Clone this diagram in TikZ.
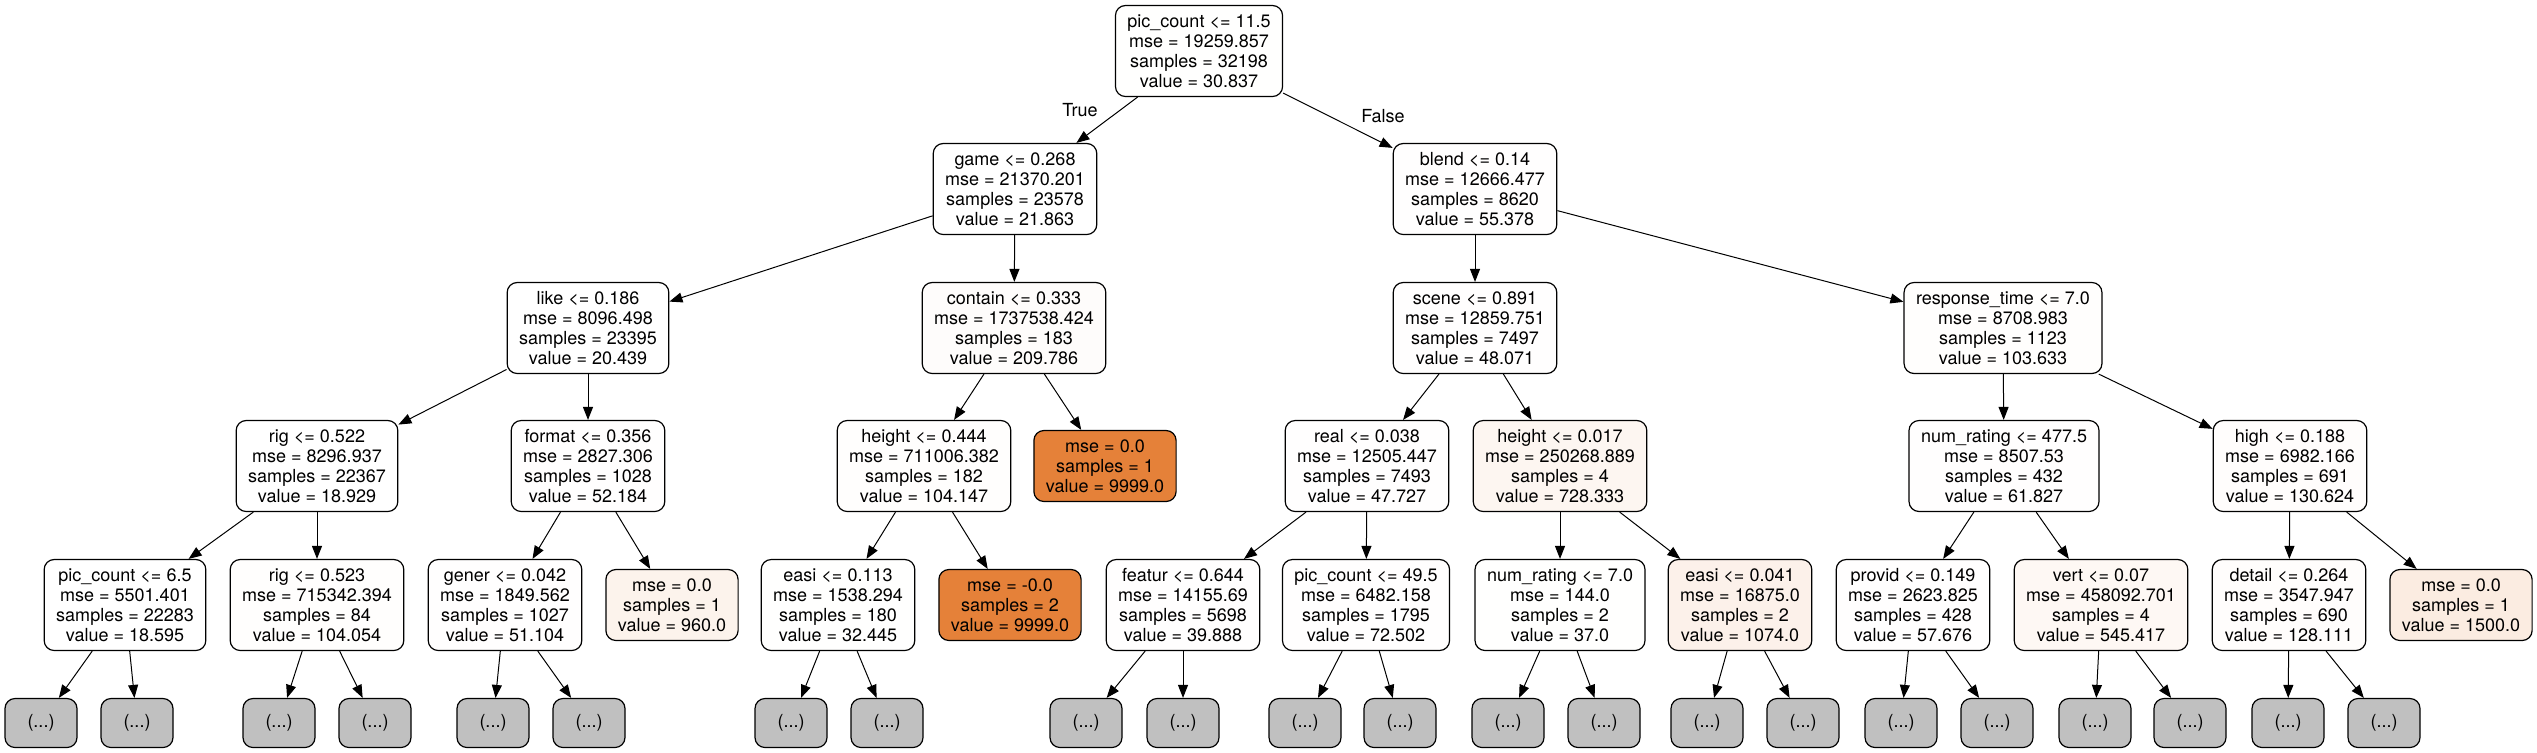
\documentclass[tikz,border=0pt]{standalone}
\usepackage{fontspec}
\setmainfont{TeX Gyre Heros}
\usetikzlibrary{arrows.meta}
\definecolor{cw}{RGB}{255,255,255}
\definecolor{cRoot}{RGB}{255,255,254}
\definecolor{cA}{RGB}{255,254,254}
\definecolor{cB}{RGB}{255,254,253}
\definecolor{cC}{RGB}{254,252,251}
\definecolor{cD}{RGB}{255,253,252}
\definecolor{cH}{RGB}{253,246,241}
\definecolor{cL960}{RGB}{252,243,236}
\definecolor{cE}{RGB}{252,241,234}
\definecolor{cV}{RGB}{254,248,244}
\definecolor{cL1500}{RGB}{251,236,225}
\definecolor{corange}{RGB}{229,129,57}
\definecolor{cgray}{RGB}{192,192,192}
\begin{document}
\begin{tikzpicture}[x=0.5pt,y=-0.5pt,
  every node/.style={font=\fontsize{9pt}{10pt}\selectfont},
  tn/.style={draw=black, line width=0.6pt, rounded corners=5pt, align=center,
    inner xsep=6pt, inner ysep=1pt, minimum height=45.5pt, minimum width=36pt},
  lf/.style={tn, minimum height=35.5pt},
  gr/.style={tn, fill=cgray, minimum height=24.5pt},
  ed/.style={-{Triangle[length=6.5pt,width=5pt]}, line width=0.5pt},
  lbl/.style={inner sep=0pt}]
\useasboundingbox (0,0) rectangle (2537,752);
% level 0
\node[tn, fill=cRoot] (root) at (1199,51) {pic\_count <= 11.5\\mse = 19259.857\\samples = 32198\\value = 30.837};
% level 1
\node[tn, fill=cw] (game) at (1015,189) {game <= 0.268\\mse = 21370.201\\samples = 23578\\value = 21.863};
\node[tn, fill=cA] (blend) at (1475,189) {blend <= 0.14\\mse = 12666.477\\samples = 8620\\value = 55.378};
% level 2
\node[tn, fill=cw] (like) at (588,328) {like <= 0.186\\mse = 8096.498\\samples = 23395\\value = 20.439};
\node[tn, fill=cC] (contain) at (1014,328) {contain <= 0.333\\mse = 1737538.424\\samples = 183\\value = 209.786};
\node[tn, fill=cA] (scene) at (1475,328) {scene <= 0.891\\mse = 12859.751\\samples = 7497\\value = 48.071};
\node[tn, fill=cB] (resp) at (2003,328) {response\_time <= 7.0\\mse = 8708.983\\samples = 1123\\value = 103.633};
% level 3
\node[tn, fill=cw] (rigA) at (317,466) {rig <= 0.522\\mse = 8296.937\\samples = 22367\\value = 18.929};
\node[tn, fill=cA] (format) at (588,466) {format <= 0.356\\mse = 2827.306\\samples = 1028\\value = 52.184};
\node[tn, fill=cB] (heightA) at (924,466) {height <= 0.444\\mse = 711006.382\\samples = 182\\value = 104.147};
\node[lf, fill=corange] (leafA) at (1105,466) {mse = 0.0\\samples = 1\\value = 9999.0};
\node[tn, fill=cA] (real) at (1367,466) {real <= 0.038\\mse = 12505.447\\samples = 7493\\value = 47.727};
\node[tn, fill=cH] (heightB) at (1560,466) {height <= 0.017\\mse = 250268.889\\samples = 4\\value = 728.333};
\node[tn, fill=cA] (numrA) at (2004,466) {num\_rating <= 477.5\\mse = 8507.53\\samples = 432\\value = 61.827};
\node[tn, fill=cD] (high) at (2290,466) {high <= 0.188\\mse = 6982.166\\samples = 691\\value = 130.624};
% level 4
\node[tn, fill=cw] (picB) at (125,605) {pic\_count <= 6.5\\mse = 5501.401\\samples = 22283\\value = 18.595};
\node[tn, fill=cB] (rigB) at (317,605) {rig <= 0.523\\mse = 715342.394\\samples = 84\\value = 104.054};
\node[tn, fill=cA] (gener) at (505,605) {gener <= 0.042\\mse = 1849.562\\samples = 1027\\value = 51.104};
\node[lf, fill=cL960] (leafC) at (672,605) {mse = 0.0\\samples = 1\\value = 960.0};
\node[tn, fill=cRoot] (easiA) at (838,605) {easi <= 0.113\\mse = 1538.294\\samples = 180\\value = 32.445};
\node[lf, fill=corange] (leafB) at (1010,605) {mse = -0.0\\samples = 2\\value = 9999.0};
\node[tn, fill=cA] (featur) at (1183,605) {featur <= 0.644\\mse = 14155.69\\samples = 5698\\value = 39.888};
\node[tn, fill=cA] (picC) at (1366,605) {pic\_count <= 49.5\\mse = 6482.158\\samples = 1795\\value = 72.502};
\node[tn, fill=cRoot] (numrB) at (1560,605) {num\_rating <= 7.0\\mse = 144.0\\samples = 2\\value = 37.0};
\node[tn, fill=cE] (easiB) at (1740,605) {easi <= 0.041\\mse = 16875.0\\samples = 2\\value = 1074.0};
\node[tn, fill=cA] (provid) at (1913,605) {provid <= 0.149\\mse = 2623.825\\samples = 428\\value = 57.676};
\node[tn, fill=cV] (vert) at (2101,605) {vert <= 0.07\\mse = 458092.701\\samples = 4\\value = 545.417};
\node[tn, fill=cD] (detail) at (2289,605) {detail <= 0.264\\mse = 3547.947\\samples = 690\\value = 128.111};
\node[lf, fill=cL1500] (leafD) at (2461,605) {mse = 0.0\\samples = 1\\value = 1500.0};
% level 5 (truncated)
\foreach \n/\x in {g1/41, g2/137, g3/279, g4/375, g5/493, g6/589, g7/791, g8/887,
  g9/1086, g10/1183, g11/1305, g12/1400, g13/1508, g14/1604, g15/1707, g16/1803,
  g17/1901, g18/1997, g19/2095, g20/2190, g21/2288, g22/2384}
  \node[gr] (\n) at (\x,723) {(...)};
% edges
\draw[ed] (root) -- (game);
\draw[ed] (root) -- (blend);
\node[lbl] (ltrue) at (1080,110) {True};
\node[lbl] (lfalse) at (1383,116) {False};
\foreach \a/\b in {game/like, game/contain, blend/scene, blend/resp,
  like/rigA, like/format, contain/heightA, contain/leafA,
  scene/real, scene/heightB, resp/numrA, resp/high,
  rigA/picB, rigA/rigB, format/gener, format/leafC,
  heightA/easiA, heightA/leafB, real/featur, real/picC,
  heightB/numrB, heightB/easiB, numrA/provid, numrA/vert,
  high/detail, high/leafD,
  picB/g1, picB/g2, rigB/g3, rigB/g4, gener/g5, gener/g6,
  easiA/g7, easiA/g8, featur/g9, featur/g10, picC/g11, picC/g12,
  numrB/g13, numrB/g14, easiB/g15, easiB/g16, provid/g17, provid/g18,
  vert/g19, vert/g20, detail/g21, detail/g22}
  \draw[ed] (\a) -- (\b);
\end{tikzpicture}
\end{document}
